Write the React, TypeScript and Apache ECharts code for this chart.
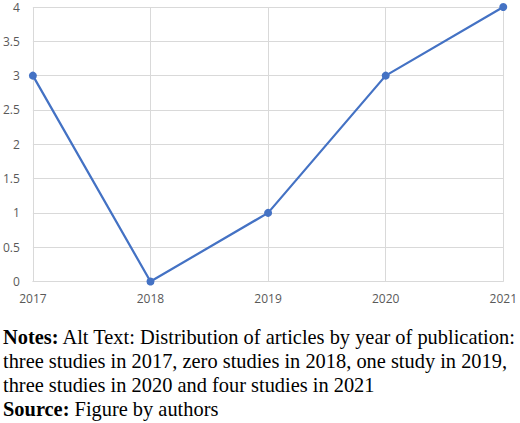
import React, { useEffect, useRef } from "react";
import * as echarts from "echarts";

const years = ["2017", "2018", "2019", "2020", "2021"];
const studies = [3, 0, 1, 3, 4];
const yTicks = { min: 0, max: 4, interval: 0.5 };

const noteLines = [
	"{b|Notes:} Alt Text: Distribution of articles by year of publication:",
	"three studies in 2017, zero studies in 2018, one study in 2019,",
	"three studies in 2020 and four studies in 2021",
	"{b|Source:} Figure by authors",
];

const App: React.FC = () => {
	const chartRef = useRef<HTMLDivElement>(null);

	useEffect(() => {
		if (!chartRef.current) return;
		const chart = echarts.init(chartRef.current, undefined, { renderer: "svg" });

		const axisText = {
			color: "#595959",
			fontSize: 12,
			fontFamily: "Open Sans",
		};

		const option: echarts.EChartsOption = {
			animation: false,
			grid: { left: 32, right: 14, top: 7, bottom: 141.5 },
			xAxis: {
				type: "category",
				data: years,
				boundaryGap: false,
				axisLine: { lineStyle: { color: "#d9d9d9", width: 1 } },
				axisTick: { show: false },
				axisLabel: { ...axisText, margin: 11 },
				splitLine: { show: true, lineStyle: { color: "#d9d9d9", width: 1 } },
			},
			yAxis: {
				type: "value",
				min: yTicks.min,
				max: yTicks.max,
				interval: yTicks.interval,
				axisLine: { show: false },
				axisTick: { show: false },
				axisLabel: { ...axisText, margin: 13 },
				splitLine: { lineStyle: { color: "#d9d9d9", width: 1 } },
			},
			series: [
				{
					type: "line",
					data: studies,
					symbol: "circle",
					symbolSize: 8,
					lineStyle: { color: "#4472C4", width: 2.25 },
					itemStyle: { color: "#4472C4" },
				},
			],
			graphic: noteLines.map((line, i) => ({
				type: "text",
				left: 3,
				top: 327 + i * 24,
				style: {
					text: line,
					fill: "#000",
					fontSize: 20.4,
					fontFamily: "Liberation Serif",
					rich: {
						b: { fontWeight: "bold", fontSize: 20.4, fontFamily: "Liberation Serif", fill: "#000" },
					},
				},
			})),
		};

		chart.setOption(option);
		return () => chart.dispose();
	}, []);

	return (
		<div
			ref={chartRef}
			style={{ position: "absolute", left: 0, top: 0, width: 520, height: 423, background: "#fff" }}
		/>
	);
};

export default App;
